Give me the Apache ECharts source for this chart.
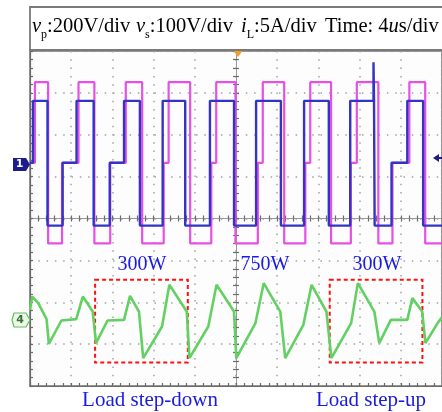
<!DOCTYPE html>
<html>
<head>
<meta charset="utf-8">
<title>DAB load step</title>
<script src="https://cdn.jsdelivr.net/npm/echarts@6.0.0/dist/echarts.min.js"></script>
<style>
  html, body { margin: 0; padding: 0; background: #fff; }
  #chart { width: 442px; height: 412px; }
</style>
</head>
<body>
<div id="chart"></div>
<script>
// time in us (4us/div, 10 div on screen)
// vp: primary voltage (V), step-held levels starting at each time
const vpTime = [0, 0.48, 1.76, 3.11, 4.71, 6.25, 7.79, 9.30, 10.89, 12.98, 13.46, 15.55, 17.60, 18.08,
  19.95, 22.12, 22.60, 24.68, 26.73, 27.21, 29.23, 31.15, 31.73, 33.82, 35.19, 36.83, 38.37, 40];
const vpVolt = [0, 385, -385, 0, 385, -385, 0, 385, -385, 0, 385, -385, 0, 385,
  -385, 0, 385, -385, 0, 385, -385, 0, 385, -385, 0, 385, -385, -385];

// vs: secondary voltage (V)
const vsTime = [0, 0.29, 1.70, 3.17, 4.52, 6.18, 7.74, 9.13, 10.67, 12.88, 15.07, 17.47, 19.81, 21.95,
  24.36, 26.61, 29.01, 31.09, 33.35, 33.40, 33.46, 35.10, 36.63, 38.17, 40];
const vsVolt = [0, 148, -150, 0, 148, -150, 0, 148, -150, 148, -150, 148, -150, 148,
  -150, 148, -150, 148, 240, 148, -150, 0, 148, -150, -150];

// iL: inductor current (A)
const iLTime = [0, 0.22, 0.80, 1.61, 1.83, 3.05, 4.49, 5.13, 6.09, 6.41, 7.53, 9.13, 9.71, 10.58, 10.99,
  12.82, 13.53, 15.22, 15.48, 17.31, 18.11, 19.81, 20.03, 21.89, 22.69, 24.30, 24.78, 26.54, 27.34,
  28.78, 29.26, 31.18, 31.83, 33.43, 33.91, 35.03, 36.63, 37.12, 38.08, 38.39, 39.62, 40];
const iLAmp = [1.19, 2.78, 1.99, 0.08, -2.87, -0.08, 0.08, 2.78, 0.99, -2.78, -0.08, 0, 2.87, 0.99, -4.57,
  -0.8, 4.18, 0.99, -4.57, -0.8, 4.18, 0.99, -4.57, -0.39, 4.38, 0.99, -4.57, -0.6, 4.18,
  0.99, -4.57, -0.39, 4.38, 0.99, -2.78, 0, 0, 2.59, 0.99, -2.78, -0.3, 0.3];

// dashed boxes around the transients [t0, t1] (us), [iTop, iBottom] (A)
const boxTime = [[6.32, 15.32], [29.1, 38.1]];
const boxAmp = [4.78, -5.1];

const zip = (a, b) => a.map((t, i) => [t, b[i]]);

const chart = echarts.init(document.getElementById('chart'));
const serif = '"Liberation Serif", "DejaVu Serif", serif';
const dots = { color: '#a2a2a2', width: 1.5, type: [1.5, 6.8] };
const edge = { color: '#6a6a6a', width: 1.2 };

// one tick-style for the scope graticule
function scopeAxis(extra) {
  return Object.assign({
    type: 'value',
    axisLabel: { show: false },
    axisTick: { show: true, inside: true, length: 3, lineStyle: edge },
    minorTick: { show: true, splitNumber: 5, length: 3, lineStyle: edge },
    splitLine: { show: false }
  }, extra);
}

const sub = { fontSize: 12, fontFamily: serif, verticalAlign: 'bottom', lineHeight: 12, padding: [0, 0, -3, 0] };
function headText(x, color, parts) {
  const rich = {
    n: { fontSize: 20.5, fontFamily: serif, color: color, lineHeight: 22 },
    i: { fontSize: 20.5, fontFamily: serif, fontStyle: 'italic', color: color, lineHeight: 22 },
    s: Object.assign({ color: color }, sub)
  };
  return { type: 'text', left: x, top: 16, z: 10, style: { text: parts, rich: rich } };
}
function blueLabel(text, cx, cy, size) {
  return {
    type: 'text', x: cx, y: cy, z: 10,
    style: { text: text, fill: '#1a1ae0', font: size + 'px ' + serif, textAlign: 'center', textVerticalAlign: 'middle' }
  };
}

const option = {
  backgroundColor: '#fff',
  animation: false,
  grid: { left: 30, top: 51, width: 416, height: 335, show: true, borderColor: '#707070', borderWidth: 1.5, backgroundColor: '#fdfdfd' },
  xAxis: [
    scopeAxis({ min: 0, max: 40, interval: 4, position: 'bottom', axisLine: { show: true, onZero: false, lineStyle: edge },
      splitLine: { show: true, lineStyle: dots } }),
    scopeAxis({ min: -20, max: 20, interval: 4, position: 'top', axisTick: { show: true, inside: false, length: 3, lineStyle: edge },
      axisLine: { show: true, onZero: true, onZeroAxisIndex: 1, lineStyle: { color: '#9a9a9a', width: 1 } } }),
    scopeAxis({ min: -20, max: 20, interval: 4, position: 'bottom', axisTick: { show: true, inside: false, length: 3, lineStyle: edge },
      axisLine: { show: false, onZero: true, onZeroAxisIndex: 1 } })
  ],
  yAxis: [
    scopeAxis({ min: -4, max: 4, interval: 1, position: 'left', axisLine: { show: true, onZero: false, lineStyle: edge },
      splitLine: { show: true, lineStyle: dots } }),
    scopeAxis({ min: -4, max: 4, interval: 1, position: 'left', axisTick: { show: true, inside: false, length: 3, lineStyle: edge },
      axisLine: { show: true, onZero: true, onZeroAxisIndex: 1, lineStyle: { color: '#9a9a9a', width: 1 } } }),
    scopeAxis({ min: -4, max: 4, interval: 1, position: 'right', axisTick: { show: true, inside: false, length: 3, lineStyle: edge },
      axisLine: { show: false, onZero: true, onZeroAxisIndex: 1 } }),
    // channel scales: vp 200V/div, vs 100V/div (ground 5.33 div up), iL 5A/div (ground 1.58 div up)
    { type: 'value', show: false, min: -1066, max: 534 },
    { type: 'value', show: false, min: -533, max: 267 },
    { type: 'value', show: false, min: -7.9, max: 32.1 }
  ],
  series: [
    {
      name: 'vp', type: 'line', step: 'end', xAxisIndex: 0, yAxisIndex: 3, showSymbol: false, silent: true,
      lineStyle: { color: '#e650e6', width: 2.2 }, data: zip(vpTime, vpVolt)
    },
    {
      name: 'vs', type: 'line', step: 'end', xAxisIndex: 0, yAxisIndex: 4, showSymbol: false, silent: true,
      lineStyle: { color: '#3434c4', width: 2.4 }, data: zip(vsTime, vsVolt)
    },
    {
      name: 'iL', type: 'line', xAxisIndex: 0, yAxisIndex: 5, showSymbol: false, silent: true,
      lineStyle: { color: '#62d062', width: 2.6 }, data: zip(iLTime, iLAmp),
      markArea: {
        silent: true,
        label: { show: false },
        itemStyle: { color: 'rgba(0,0,0,0)', borderColor: '#ff1010', borderWidth: 2, borderType: [4, 3] },
        data: boxTime.map(b => [{ coord: [b[0], boxAmp[0]] }, { coord: [b[1], boxAmp[1]] }])
      }
    }
  ],
  graphic: [
    // heading box
    { type: 'rect', shape: { x: 30, y: 7, width: 430, height: 43 }, z: 5,
      style: { fill: '#fff', stroke: '#7a7a7a', lineWidth: 1.8 } },
    headText(32, '#e028e0', '{i|v}{s|p}{n|:200V/div}'),
    headText(136, '#1c1cd0', '{i|v}{s|s}{n|:100V/div}'),
    headText(241, '#2ac82a', '{i|i}{s|L}{n|:5A/div}'),
    headText(325, '#111', '{n|Time: 4}{i|u}{n|s/div}'),
    // channel 1 marker
    { type: 'polygon', z: 10, shape: { points: [[13, 158], [26, 158], [30, 164.5], [26, 171], [13, 171]] }, style: { fill: '#1c1c8a' } },
    { type: 'text', x: 19.5, y: 164.5, z: 11, style: { text: '1', fill: '#fff', font: 'bold 11px "DejaVu Sans"', textAlign: 'center', textVerticalAlign: 'middle' } },
    // channel 4 marker
    { type: 'polygon', z: 10, shape: { points: [[14, 313], [26, 313], [30, 320], [26, 327], [14, 327], [12, 320]] },
      style: { fill: '#eef8e6', stroke: '#5cbf5c', lineWidth: 1.2 } },
    { type: 'text', x: 20, y: 320, z: 11, style: { text: '4', fill: '#3b6e3b', font: 'bold 11px "DejaVu Sans"', textAlign: 'center', textVerticalAlign: 'middle' } },
    // trigger position and level markers
    { type: 'polygon', z: 10, shape: { points: [[233.5, 51], [242.5, 51], [238, 57]] }, style: { fill: '#f0a030' } },
    { type: 'polygon', z: 10, shape: { points: [[433, 158], [439, 154], [439, 162]] }, style: { fill: '#1c1c8a' } },
    { type: 'rect', z: 10, shape: { x: 438, y: 157, width: 4, height: 2 }, style: { fill: '#1c1c8a' } },
    // power labels and captions
    blueLabel('300W', 142, 265, 20),
    blueLabel('750W', 265, 265, 20),
    blueLabel('300W', 377, 265, 20),
    blueLabel('Load step-down', 150, 400, 21),
    blueLabel('Load step-up', 371, 400, 21)
  ]
};

chart.setOption(option);
</script>
</body>
</html>
